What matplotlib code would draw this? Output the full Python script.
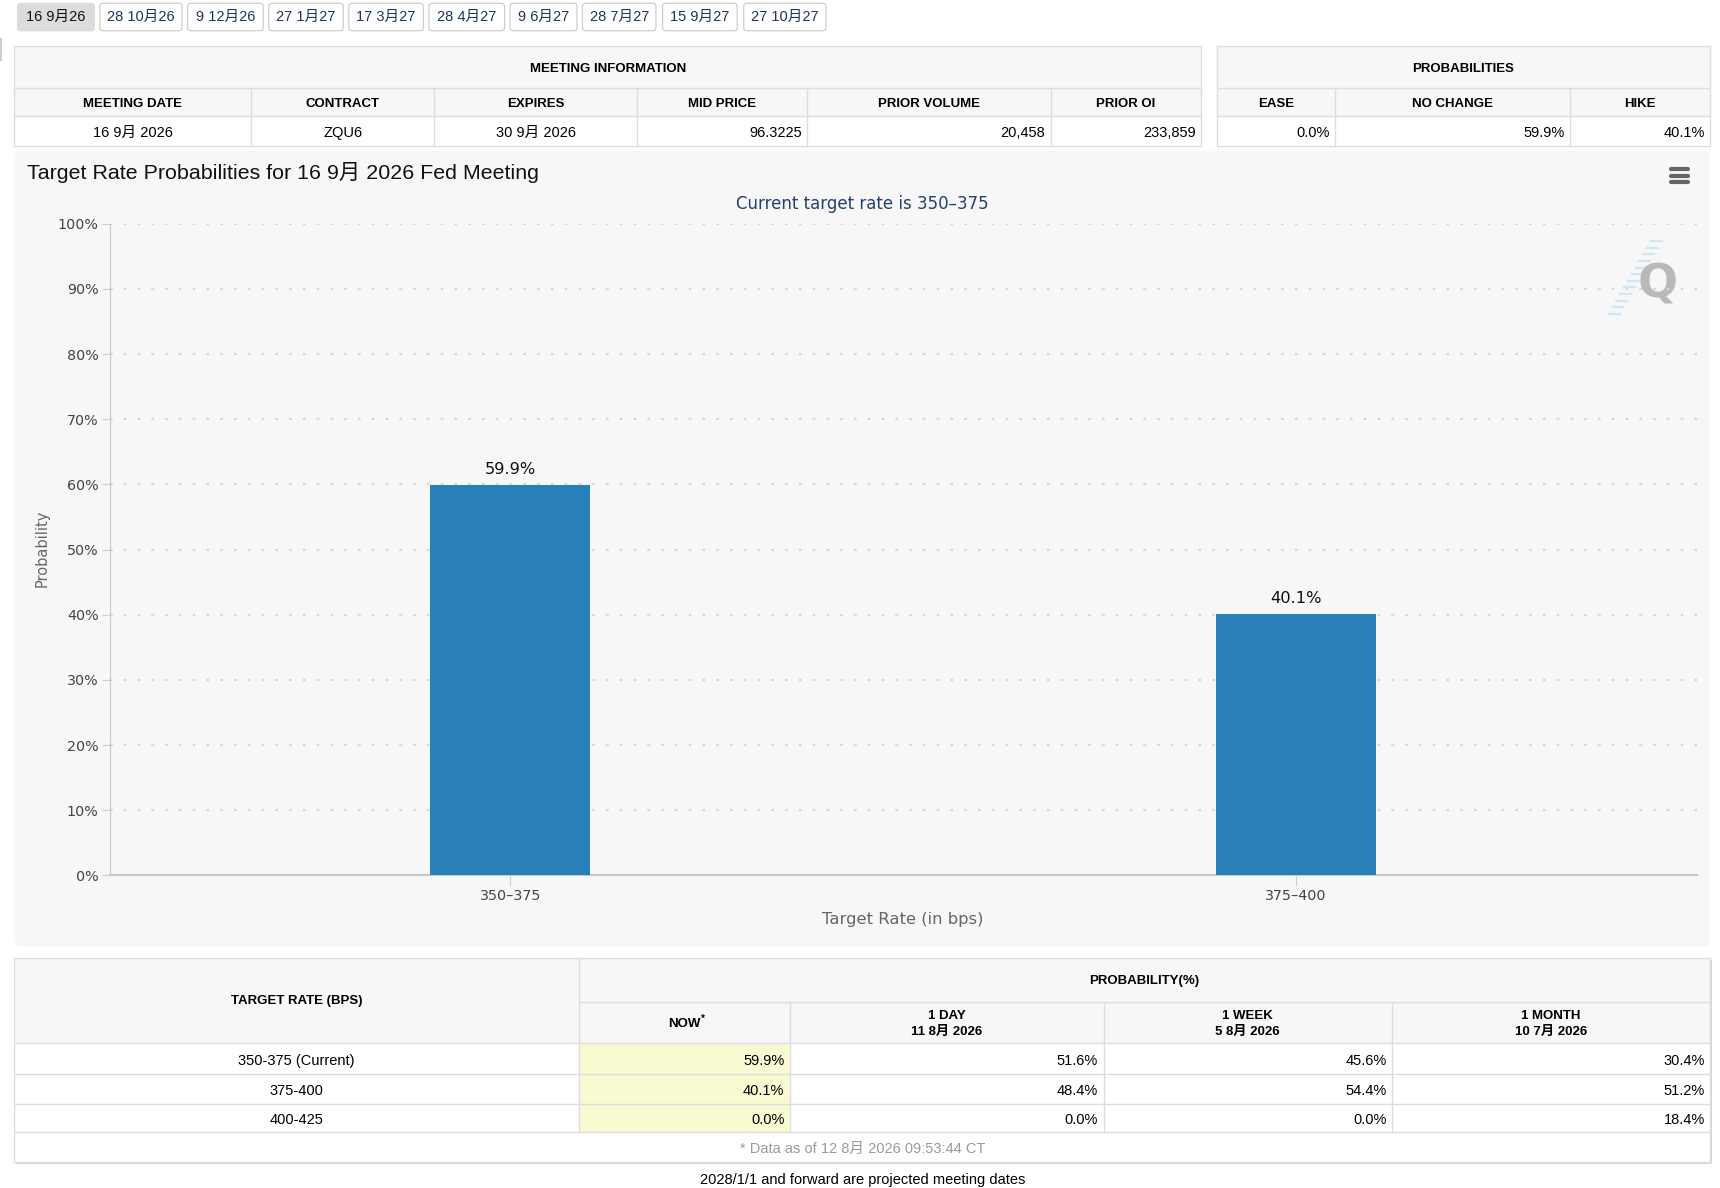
import matplotlib
matplotlib.use("Agg")
import matplotlib.pyplot as plt
from matplotlib.patches import Rectangle, FancyBboxPatch
from matplotlib.ticker import FuncFormatter

# ---------------- data ----------------
tabs = ['16 9月26', '28 10月26', '9 12月26', '27 1月27', '17 3月27',
        '28 4月27', '9 6月27', '28 7月27', '15 9月27', '27 10月27']
meeting_headers = ['MEETING DATE', 'CONTRACT', 'EXPIRES', 'MID PRICE', 'PRIOR VOLUME', 'PRIOR OI']
meeting_values = ['16 9月 2026', 'ZQU6', '30 9月 2026', '96.3225', '20,458', '233,859']
prob_headers = ['EASE', 'NO CHANGE', 'HIKE']
prob_values = ['0.0%', '59.9%', '40.1%']

chart_title = 'Target Rate Probabilities for 16 9月 2026 Fed Meeting'
chart_subtitle = 'Current target rate is 350–375'
bar_categories = ['350–375', '375–400']
bar_values = [59.9, 40.1]

target_rates = ['350-375 (Current)', '375-400', '400-425']
prob_now = [59.9, 40.1, 0.0]
prob_1day = [51.6, 48.4, 0.0]
prob_1week = [45.6, 54.4, 0.0]
prob_1month = [30.4, 51.2, 18.4]
period_headers = ['NOW', '1 DAY\n11 8月 2026', '1 WEEK\n5 8月 2026', '1 MONTH\n10 7月 2026']
footnote = '* Data as of 12 8月 2026 09:53:44 CT'
bottom_note = '2028/1/1 and forward are projected meeting dates'

# ---------------- layout ----------------
W, H = 1568.0, 1083.0          # working coordinate frame
TF = ['Liberation Sans', 'Noto Sans CJK SC']
CF = ['DejaVu Sans', 'Noto Sans CJK SC']
BORDER = '#dddddd'
HEADBG = '#f7f7f7'
DY = 1.5  # small vertical text offset for table cells

fig = plt.figure(figsize=(17.2, 11.88), dpi=100)
fig.patch.set_facecolor('white')
ax0 = fig.add_axes([0, 0, 1, 1])
ax0.set_xlim(0, W)
ax0.set_ylim(H, 0)
ax0.axis('off')


def txt(x, y, s, size=10, weight='normal', ha='center', color='#000000', fam=TF, **kw):
    ax0.text(x, y, s, fontsize=size, fontweight=weight, ha=ha, va='center',
             color=color, family=fam, **kw)


def rect(x0, y0, x1, y1, fc, ec='none', lw=1.0, z=1):
    ax0.add_patch(Rectangle((x0, y0), x1 - x0, y1 - y0, facecolor=fc,
                            edgecolor=ec, linewidth=lw, zorder=z))


def hline(x0, x1, y, c=BORDER, lw=1.0, z=3):
    ax0.plot([x0, x1], [y, y], color=c, lw=lw, zorder=z, solid_capstyle='butt')


def vline(x, y0, y1, c=BORDER, lw=1.0, z=3):
    ax0.plot([x, x], [y0, y1], color=c, lw=lw, zorder=z, solid_capstyle='butt')


# ---- tabs ----
tab_edges = [(16, 86), (91, 166), (171, 240), (245, 313), (318, 386),
             (391, 460), (465, 526), (531, 598), (604, 672), (678, 753)]
for i, (lab, (a, b)) in enumerate(zip(tabs, tab_edges)):
    sel = (i == 0)
    ax0.add_patch(FancyBboxPatch((a, 3), b - a, 25,
                                 boxstyle='round,pad=0,rounding_size=3',
                                 facecolor='#dcdcdc' if sel else 'white',
                                 edgecolor='#dcdcdc' if sel else '#cfcfcf',
                                 lw=0.9, zorder=2))
    txt((a + b) / 2, 15.5, lab, size=10.5, color='#111111' if sel else '#1d3461')
vline(1, 35, 56, c='#cccccc', lw=1.5)

# ---- meeting information table ----
mx = [13, 229, 396, 581, 736, 958, 1095]
rect(13, 42, 1095, 106, HEADBG)
rect(13, 106, 1095, 133, 'white')
ax0.add_patch(Rectangle((13, 42), 1095 - 13, 133 - 42, fill=False, ec=BORDER, lw=1, zorder=4))
hline(13, 1095, 80)
hline(13, 1095, 106)
for x in mx[1:-1]:
    vline(x, 80, 133)
txt((13 + 1095) / 2, 61 + DY, 'MEETING INFORMATION', size=9.5, weight='bold')
for i, h in enumerate(meeting_headers):
    txt((mx[i] + mx[i + 1]) / 2, 93 + DY, h, size=9.5, weight='bold')
for i, v in enumerate(meeting_values):
    if i < 3:
        txt((mx[i] + mx[i + 1]) / 2, 119.5 + DY, v, size=10.5)
    else:
        txt(mx[i + 1] - 5, 119.5 + DY, v, size=10.5, ha='right')

# ---- probabilities table ----
px = [1109, 1217, 1431, 1559]
rect(1109, 42, 1559, 106, HEADBG)
rect(1109, 106, 1559, 133, 'white')
ax0.add_patch(Rectangle((1109, 42), 1559 - 1109, 133 - 42, fill=False, ec=BORDER, lw=1, zorder=4))
hline(1109, 1559, 80)
hline(1109, 1559, 106)
for x in px[1:-1]:
    vline(x, 80, 133)
txt((1109 + 1559) / 2, 61 + DY, 'PROBABILITIES', size=9.5, weight='bold')
for i, h in enumerate(prob_headers):
    txt((px[i] + px[i + 1]) / 2, 93 + DY, h, size=9.5, weight='bold')
for i, v in enumerate(prob_values):
    txt(px[i + 1] - 5, 119.5 + DY, v, size=10.5, ha='right')

# ---- chart panel ----
ax0.add_patch(FancyBboxPatch((13, 138), 1559 - 13, 863 - 138,
                             boxstyle='round,pad=0,rounding_size=5',
                             facecolor='#f7f7f7', edgecolor='none', zorder=1))
txt(25, 157, chart_title, size=15.4, ha='left', color='#111111')
txt(786, 186, chart_subtitle, size=12, color='#253f72', fam=CF)
txt(38, 500, 'Probability', size=10.5, color='#666666', fam=CF, rotation=90)
txt(823, 838, 'Target Rate (in bps)', size=11.8, color='#666666', fam=CF)
# hamburger menu
for yy in (154, 160, 166):
    ax0.plot([1523, 1539], [yy, yy], color='#666666', lw=3, solid_capstyle='round', zorder=5)
# watermark
for k in range(12):
    yy = 220 + k * 6
    xx = 1515 - k * 3.5
    ax0.plot([xx - 10, xx], [yy, yy], color='#cfe6f5', lw=1.6, zorder=2)
txt(1511, 260, 'Q', size=34, weight='bold', color='#b9b9b9', fam=['DejaVu Sans'])

# ---- bar chart axes ----
L, R, TOP, BOT = 100, 1547, 204, 798
ax = fig.add_axes([L / W, 1 - BOT / H, (R - L) / W, (BOT - TOP) / H])
ax.set_facecolor('none')
xs = list(range(len(bar_categories)))
bars = ax.bar(xs, bar_values, width=0.204, color='#2980b9', zorder=3)
ax.set_xlim(-0.51, len(bar_categories) - 0.489)
ax.set_ylim(0, 100)
ax.set_yticks(range(0, 101, 10))
ax.yaxis.set_major_formatter(FuncFormatter(lambda v, p: f'{int(v)}%'))
ax.set_xticks(xs)
ax.set_xticklabels(bar_categories)
ax.grid(axis='y', color='#d6d6d6', linestyle=(0, (1.2, 5)), linewidth=1.6, zorder=0)
for s in ('top', 'right'):
    ax.spines[s].set_visible(False)
ax.spines['left'].set_color('#c8c8c8')
ax.spines['bottom'].set_color('#c8c8c8')
ax.spines['bottom'].set_linewidth(1.5)
ax.tick_params(axis='y', length=6, color='#d0d0d0', labelsize=10.3, labelcolor='#444444', pad=2)
ax.tick_params(axis='x', length=8, color='#d0d0d0', labelsize=10.3, labelcolor='#444444', pad=2)
for lab in ax.get_xticklabels() + ax.get_yticklabels():
    lab.set_family(CF)
for b, v in zip(bars, bar_values):
    ax.annotate(f'{v:.1f}%', (b.get_x() + b.get_width() / 2, v), xytext=(0, 6),
                textcoords='offset points', ha='center', va='bottom',
                fontsize=11.7, color='#111111', family=CF)

# ---- bottom probability table ----
bx = [13, 528, 720, 1006, 1269, 1559]
row_edges = [951, 979, 1006, 1032]
# shadow
ax0.add_patch(Rectangle((15, 875), 1559 - 13, 1059 - 873, facecolor='#d5d5d5',
                        edgecolor='none', zorder=1))
rect(13, 873, 1559, 951, HEADBG, z=2)
rect(13, 951, 1559, 1059, 'white', z=2)
rect(528, 951, 720, 1032, '#fafad2', z=2)
ax0.add_patch(Rectangle((13, 873), 1559 - 13, 1059 - 873, fill=False, ec=BORDER, lw=1, zorder=4))
vline(528, 873, 1032)
hline(528, 1559, 913)
for x in bx[2:-1]:
    vline(x, 913, 1032)
for y in row_edges:
    hline(13, 1559, y)
txt((13 + 528) / 2, 911 + DY, 'TARGET RATE (BPS)', size=9.5, weight='bold')
txt((528 + 1559) / 2, 893 + DY, 'PROBABILITY(%)', size=9.5, weight='bold')
for i, h in enumerate(period_headers):
    cx = (bx[i + 1] + bx[i + 2]) / 2
    if i == 0:
        txt(cx, 932 + DY, h, size=9.5, weight='bold')
        txt(cx + 17, 927 + DY, '*', size=7, weight='bold')
    else:
        top, bottom = h.split('\n')
        txt(cx, 925 + DY, top, size=9.5, weight='bold')
        txt(cx, 939 + DY, bottom, size=9.5, weight='bold')
cols = [prob_now, prob_1day, prob_1week, prob_1month]
for r, lab in enumerate(target_rates):
    yc = (row_edges[r] + row_edges[r + 1]) / 2 + 0.5 + DY
    txt((13 + 528) / 2, yc, lab, size=10.5)
    for c, col in enumerate(cols):
        txt(bx[c + 2] - 5, yc, f'{col[r]:.1f}%', size=10.5, ha='right')
txt(786, 1046 + DY, footnote, size=10.5, color='#9a9a9a')
txt(786, 1076, bottom_note, size=10.5)

fig.savefig('out.png', dpi=100, facecolor='white')
